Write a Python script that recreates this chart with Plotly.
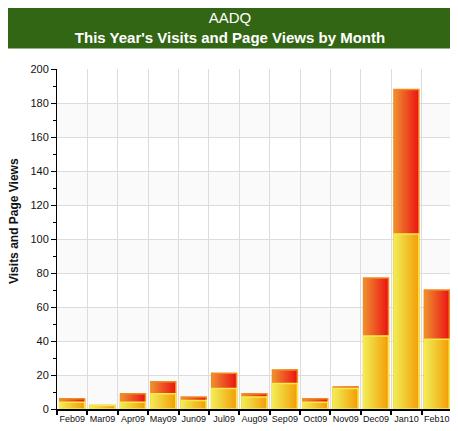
import plotly.graph_objects as go

months = ["Feb09", "Mar09", "Apr09", "May09", "Jun09", "Jul09", "Aug09",
          "Sep09", "Oct09", "Nov09", "Dec09", "Jan10", "Feb10"]
page_views = [6, 2, 9, 16, 7, 21, 9, 23, 6, 13, 77, 188, 70]
visits = [4, 2, 4, 9, 5, 12, 7, 15, 4, 12, 43, 103, 41]
y_ticks = [0, 20, 40, 60, 80, 100, 120, 140, 160, 180, 200]


def lerp(c1, c2, t):
    return "rgb(%d,%d,%d)" % tuple(round(a + (b - a) * t) for a, b in zip(c1, c2))


BAR_W = 0.82
N = 14
fig = go.Figure()


def add_gradient_series(values, c_left, c_right, outline, name):
    left = -BAR_W / 2
    step = BAR_W / N
    for i in range(N):
        start = left + i * step
        fig.add_trace(go.Bar(
            x=months, y=values, offset=start, width=BAR_W / 2 - start,
            marker=dict(color=lerp(c_left, c_right, i / (N - 1)), line=dict(width=0)),
            showlegend=False, hoverinfo="skip"))
    fig.add_trace(go.Bar(
        x=months, y=values, offset=left, width=BAR_W, name=name,
        marker=dict(color="rgba(0,0,0,0)", line=dict(color=outline, width=1.5)),
        showlegend=False))


add_gradient_series(page_views, (238, 140, 48), (236, 24, 20), "#f08a22", "Page Views")
add_gradient_series(visits, (240, 234, 84), (244, 160, 10), "#f8ea48", "Visits")

shapes = []
for k in range(0, len(y_ticks) - 1, 2):
    shapes.append(dict(type="rect", xref="paper", yref="y", x0=0, x1=1,
                       y0=y_ticks[k], y1=y_ticks[k + 1], fillcolor="#fafafa",
                       line=dict(width=0), layer="below"))

fig.update_layout(
    width=450, height=423,
    margin=dict(l=49, r=6, t=61, b=22),
    paper_bgcolor="white", plot_bgcolor="white",
    barmode="overlay",
    font=dict(family="Liberation Sans, Arial, sans-serif", color="#111"),
    shapes=shapes,
    xaxis=dict(
        type="category", tickson="boundaries", showgrid=True, gridcolor="#dcdcdc", gridwidth=1,
        showline=True, linecolor="black", linewidth=2,
        ticks="outside", ticklen=4, tickwidth=2, tickcolor="black", tickangle=0,
        tickfont=dict(size=9, color="#111"), range=[-0.5, 12.5], fixedrange=True,
        automargin=False),
    yaxis=dict(
        range=[0, 200], tickvals=y_ticks, showgrid=True, gridcolor="#dcdcdc", gridwidth=1,
        showline=True, linecolor="black", linewidth=1,
        ticks="outside", ticklen=5, tickcolor="black",
        minor=dict(dtick=10, ticks="outside", ticklen=3, tickcolor="black", showgrid=False),
        tickfont=dict(size=11, color="#111"),
        zeroline=False, automargin=False),
    annotations=[
        dict(
            text="AADQ<br><b>This Year's Visits and Page Views by Month</b>",
            xref="paper", yref="paper", x=(222 - 49) / 395, y=1 + (61 - 19.5) / 340,
            xanchor="center", yanchor="middle", showarrow=False,
            width=446, height=39, bgcolor="#336614",
            font=dict(size=15, color="white", family="Liberation Sans, Arial, sans-serif")),
        dict(
            text="<b>Visits and Page Views</b>", textangle=-90,
            xref="paper", yref="paper", x=(6 - 49) / 395, y=1 - (213 - 61) / 340,
            xanchor="center", yanchor="middle", showarrow=False,
            font=dict(size=12, color="#111", family="Liberation Sans, Arial, sans-serif")),
    ],
)

fig.write_html("out.html")
